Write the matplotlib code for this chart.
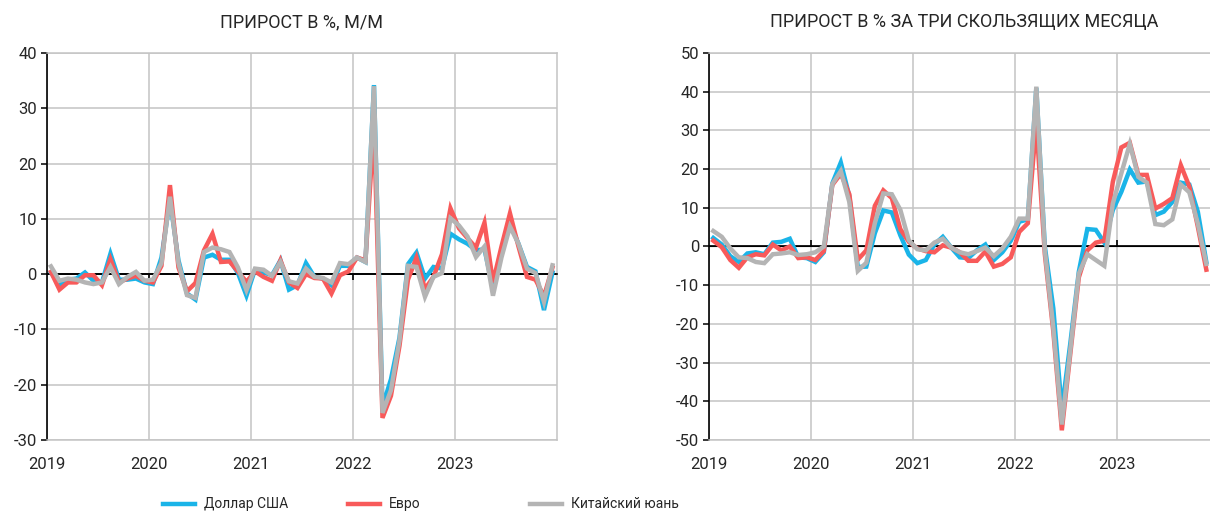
import numpy as np
import pandas as pd
from matplotlib import pyplot as plt
from matplotlib.lines import Line2D

plt.rcParams['font.family'] = ['Roboto', 'DejaVu Sans']
plt.rcParams['axes.unicode_minus'] = False

### Données
dates = pd.date_range("2019-01-01", periods=60, freq="MS")
x_all = dates.year + (dates.month - 0.5) / 12  # milieu du mois

# prirost m/m, %
usd_mm = [0.3, -2.0, -1.0, -0.8, 0.3, -1.2, -1.5, 3.7, -1.0, -1.0, -0.8, -1.5,
          -1.8, 3.0, 13.5, 2.5, -3.5, -4.6, 3.0, 3.5, 2.6, 2.6, 0.2, -3.9,
          0.8, 0.3, -0.2, 2.5, -2.8, -2.0, 2.0, -0.5, -0.8, -2.0, 1.5, 1.5,
          3.0, 2.2, 34.2, -24.0, -19.0, -11.5, 1.8, 3.9, -0.8, 1.3, 1.0, 7.3,
          6.3, 5.5, 4.3, 4.5, -2.6, 4.0, 9.2, 5.5, 1.3, 0.5, -6.5, 0.3]
eur_mm = [0.4, -2.8, -1.5, -1.5, -0.2, -0.2, -2.0, 2.7, -1.5, -0.8, -0.3, -1.2,
          -1.5, 1.5, 16.1, 1.2, -3.1, -1.6, 4.3, 7.3, 2.2, 2.3, 0.5, -1.4,
          0.5, -0.5, -1.2, 2.5, -1.5, -2.5, 0.0, -0.7, -0.8, -3.5, -0.2, 0.5,
          3.0, 2.5, 27.0, -26.0, -22.0, -13.0, -1.0, 3.0, -2.7, -0.5, 3.6, 11.9,
          8.3, 6.5, 4.8, 9.3, -1.5, 5.0, 11.0, 5.0, -0.5, -1.0, -4.0, 1.2]
cny_mm = [1.4, -1.2, -0.8, -1.0, -1.5, -1.8, -1.5, 1.3, -1.8, -0.5, 0.4, -1.2,
          -1.0, 2.0, 14.0, 2.0, -3.8, -4.3, 4.0, 4.8, 4.5, 4.0, 1.2, -2.9,
          1.0, 0.8, -0.3, 2.2, -1.3, -1.7, 1.0, -0.5, -0.7, -1.5, 2.0, 1.8,
          3.0, 2.2, 34.0, -25.1, -21.0, -12.0, 1.5, 1.3, -4.1, -0.5, 0.2, 10.1,
          8.8, 6.8, 3.1, 5.0, -3.9, 3.0, 8.6, 5.5, 1.0, 0.2, -5.0, 1.6]

# prirost za tri mesyatsa, % (jusqu'a novembre 2023)
usd_3m = [2.2, 0.5, -2.5, -4.0, -1.8, -1.5, -2.0, 1.0, 1.2, 2.0, -2.8, -3.0,
          -4.0, -1.5, 16.3, 21.7, 13.0, -5.3, -5.2, 3.4, 9.3, 8.8, 2.9, -2.1,
          -4.3, -3.5, 0.5, 2.5, -0.3, -2.8, -3.0, -1.0, 0.5, -3.5, -1.5, 1.5,
          6.4, 7.0, 41.0, 0.0, -16.0, -42.3, -25.0, -6.5, 4.5, 4.3, 1.0, 9.4,
          14.1, 19.9, 16.5, 16.8, 8.1, 9.0, 11.5, 16.5, 16.0, 9.0, -4.0]
eur_3m = [1.5, -0.2, -3.5, -5.5, -2.8, -2.0, -2.3, 0.5, -1.0, 0.0, -3.0, -2.8,
          -3.5, -1.2, 15.9, 18.8, 13.5, -3.4, -1.0, 10.5, 14.5, 12.5, 4.5, 1.2,
          -0.5, -1.2, -1.5, 0.3, -0.3, -1.5, -3.7, -3.7, -1.3, -5.2, -4.5, -2.8,
          3.8, 6.0, 32.0, -2.0, -22.0, -47.5, -27.7, -8.0, -1.0, 1.0, 1.5, 16.7,
          25.6, 26.8, 18.5, 18.5, 9.8, 11.0, 12.5, 21.0, 15.5, 5.1, -6.0]
cny_3m = [4.0, 2.5, -0.5, -2.8, -3.0, -4.0, -4.3, -2.0, -1.8, -1.5, -2.2, -2.0,
          -1.5, 0.0, 16.1, 19.5, 11.5, -6.3, -4.2, 6.0, 13.7, 13.5, 9.5, 1.6,
          -0.7, -1.0, 1.0, 2.0, -0.3, -1.5, -2.0, -1.2, -0.3, -2.5, -0.5, 2.5,
          7.2, 7.2, 41.3, -1.0, -21.0, -46.0, -26.8, -7.0, -2.0, -3.5, -5.0, 11.1,
          18.9, 26.5, 18.0, 16.5, 5.8, 5.5, 7.0, 16.0, 14.0, 5.9, -4.5]

series_names = ["Доллар США", "Евро", "Китайский юань"]
colors = ["#1AB4E8", "#F85A5A", "#B4B4B4"]
years = [2019, 2020, 2021, 2022, 2023]

titles = ["ПРИРОСТ В %, М/М", "ПРИРОСТ В % ЗА ТРИ СКОЛЬЗЯЩИХ МЕСЯЦА"]

### Figure
fig = plt.figure(figsize=(12.1, 5.14), dpi=100)
ax1 = fig.add_axes([0.0386, 0.144, 0.4215, 0.7529])
ax2 = fig.add_axes([0.586, 0.144, 0.4215, 0.7529])

panels = [
    (ax1, [usd_mm, eur_mm, cny_mm], (-30, 40)),
    (ax2, [usd_3m, eur_3m, cny_3m], (-50, 50)),
]

for ax, data, (ymin, ymax) in panels:
    for vals, c in zip(data, colors):
        ax.plot(x_all[:len(vals)], vals, color=c, lw=3.2, solid_joinstyle='miter', zorder=3)
    ax.set_xlim(2019, 2024)
    ax.set_ylim(ymin, ymax)
    ax.set_yticks(np.arange(ymin, ymax + 1, 10))
    ax.set_xticks(years)
    ax.set_xticklabels([str(y) for y in years])
    ax.grid(color='#C4C4C4', lw=1.1)
    ax.set_axisbelow(True)
    for s in ['top', 'right', 'bottom']:
        ax.spines[s].set_color('#C4C4C4')
        ax.spines[s].set_linewidth(1.1)
    ax.spines['left'].set_color('black')
    ax.spines['left'].set_linewidth(1.2)
    ax.tick_params(axis='y', direction='out', length=4, width=1.1, color='black',
                   labelsize=12, labelcolor='#262626', pad=3)
    ax.tick_params(axis='x', length=0, labelsize=12, labelcolor='#262626', pad=12)

    # ligne du zero avec petits traits
    ax.axhline(0, color='black', lw=1.2, zorder=2.5)
    zero = ax.secondary_xaxis((0 - ymin) / (ymax - ymin))
    zero.set_zorder(2.6)
    zero.set_xticks(years[1:])
    zero.set_xticklabels([])
    zero.tick_params(direction='out', length=4, width=1.2, color='black')
    zero.spines['bottom'].set_color('black')
    zero.spines['bottom'].set_linewidth(1.2)

for ax, t in zip([ax1, ax2], titles):
    pos = ax.get_position()
    fig.text((pos.x0 + pos.x1) / 2, 0.957, t, ha='center', va='center',
             fontsize=13, color='#262626')

# legende en bas
leg_x = [0.1347, 0.2876, 0.438]
for name, c, lx in zip(series_names, colors, leg_x):
    fig.add_artist(Line2D([lx, lx + 0.0265], [0.0195, 0.0195], color=c, lw=3.2,
                          transform=fig.transFigure))
    fig.text(lx + 0.034, 0.0195, name, ha='left', va='center', fontsize=10,
             color='#262626')

fig.savefig("out.png", dpi=100)
